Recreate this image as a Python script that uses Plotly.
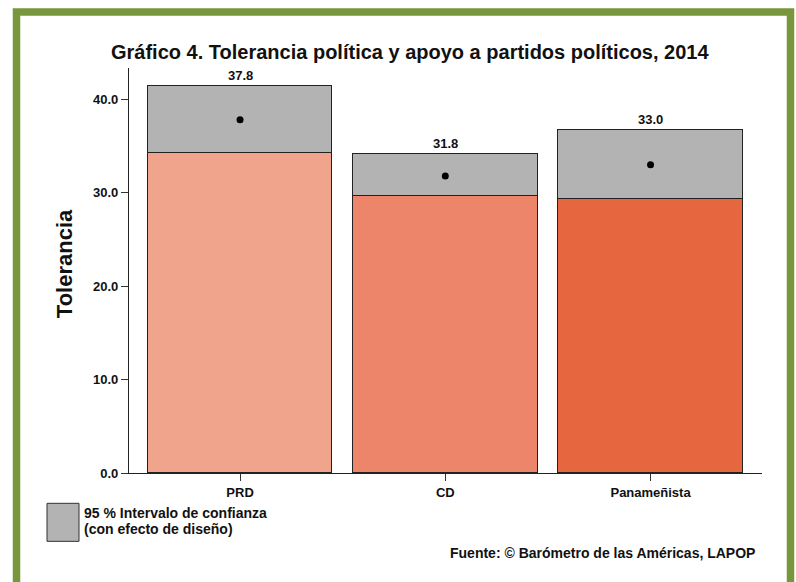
import plotly.graph_objects as go

categories = ["PRD", "CD", "Panameñista"]
means = [37.8, 31.8, 33.0]
ci_lower = [34.2, 29.6, 29.3]
ci_upper = [41.45, 34.1, 36.7]
bar_colors = ["#F0A48C", "#EC856A", "#E6673F"]
y_ticks = [0, 10, 20, 30, 40]

W, H = 796, 582
L, R, T, B = 129, 762, 68, 472.7
pw, ph = R - L, B - T

def px(x):
    return (x - L) / pw

def py(y):
    return (B - y) / ph

xs = list(range(len(categories)))
ci_height = [u - l for u, l in zip(ci_upper, ci_lower)]

fig = go.Figure()
fig.add_trace(go.Bar(
    x=xs, y=ci_lower, width=0.9, marker=dict(color=bar_colors, line=dict(color="#222222", width=1)),
    showlegend=False, hoverinfo="skip"))
fig.add_trace(go.Bar(
    x=xs, y=ci_height, width=0.9, marker=dict(color="#B3B3B3", line=dict(color="#222222", width=1)),
    showlegend=False, hoverinfo="skip"))
fig.add_trace(go.Scatter(
    x=xs, y=means, mode="markers", marker=dict(color="black", size=7),
    showlegend=False, hoverinfo="skip"))

font_b = "Liberation Sans, Arial"
annotations = []
for x, u, m in zip(xs, ci_upper, means):
    annotations.append(dict(x=x, y=u, xref="x", yref="y", text=f"<b>{m:.1f}</b>", showarrow=False,
                            yanchor="bottom", yshift=1,
                            font=dict(family=font_b, size=13, color="#111111")))

annotations += [
    dict(x=px(82), y=py(513), xref="paper", yref="paper", xanchor="left", yanchor="middle",
         text="<b>95 % Intervalo de confianza</b>", showarrow=False,
         font=dict(family=font_b, size=14, color="#111111")),
    dict(x=px(82), y=py(529), xref="paper", yref="paper", xanchor="left", yanchor="middle",
         text="<b>(con efecto de diseño)</b>", showarrow=False,
         font=dict(family=font_b, size=14, color="#111111")),
    dict(x=px(757), y=py(553), xref="paper", yref="paper", xanchor="right", yanchor="middle",
         text="<b>Fuente: © Barómetro de las Américas, LAPOP</b>", showarrow=False,
         font=dict(family=font_b, size=14, color="#111111")),
    dict(x=px(410), y=py(52), xref="paper", yref="paper", xanchor="center", yanchor="middle",
         text="<b>Gráfico 4. Tolerancia política y apoyo a partidos políticos, 2014</b>", showarrow=False,
         font=dict(family=font_b, size=20, color="#111111")),
    dict(x=px(64), y=py(264), xref="paper", yref="paper", xanchor="center", yanchor="middle",
         text="<b>Tolerancia</b>", showarrow=False, textangle=-90,
         font=dict(family=font_b, size=22, color="#111111")),
]

shapes = [
    dict(type="rect", xref="paper", yref="paper", x0=px(16.5), x1=px(790.5), y0=py(590), y1=py(12),
         line=dict(color="#78973C", width=7.5), fillcolor="rgba(0,0,0,0)", layer="below"),
    dict(type="rect", xref="paper", yref="paper", x0=px(47), x1=px(79), y0=py(541), y1=py(503),
         line=dict(color="#333333", width=1), fillcolor="#B3B3B3"),
]

fig.update_layout(
    width=W, height=H,
    margin=dict(l=L, r=W - R, t=T, b=H - B, pad=0),
    paper_bgcolor="white", plot_bgcolor="white",
    barmode="stack", bargap=0,
    annotations=annotations, shapes=shapes,
    showlegend=False,
    xaxis=dict(range=[-0.541, 2.543], tickvals=xs, ticktext=[f"<b>{c}</b>" for c in categories],
               showline=True, linecolor="#222222", linewidth=1.2, ticks="outside", ticklen=7,
               tickcolor="#333333", showgrid=False, zeroline=False, fixedrange=True,
               tickfont=dict(family=font_b, size=13, color="#111111")),
    yaxis=dict(range=[0, 43.35], tickvals=y_ticks, ticktext=[f"<b>{v:.1f}</b>" for v in y_ticks],
               showline=True, linecolor="#222222", linewidth=1.2, ticks="outside", ticklen=7,
               tickcolor="#333333", showgrid=False, zeroline=False, fixedrange=True,
               tickfont=dict(family=font_b, size=13, color="#111111")),
)

fig.write_html("out.html", config={"displayModeBar": False},
               post_script="document.body.style.margin='0';document.body.style.overflow='hidden';")
